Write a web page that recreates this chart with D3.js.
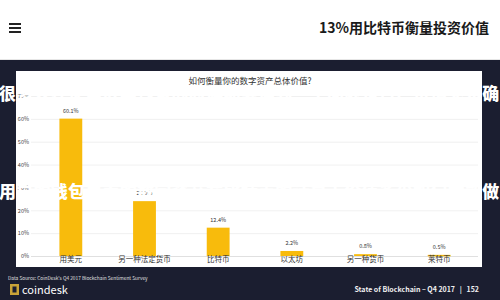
<!DOCTYPE html>
<html>
<head>
<meta charset="utf-8">
<script src="https://cdn.jsdelivr.net/npm/d3@7"></script>
<style>
  html,body{margin:0;padding:0;background:#fff;}
  svg{display:block;}
  text{font-family:"Noto Sans CJK SC","Noto Sans",sans-serif;}
</style>
</head>
<body>
<div id="chart"></div>
<script>
// ---- data ----
const categories = ["用美元", "另一种法定货币", "比特币", "以太坊", "另一种货币", "莱特币"];
const values = [60.1, 24.0, 12.4, 2.2, 0.8, 0.5];
const yTicks = [0, 10, 20, 30, 40, 50, 60, 70];
const chartTitle = "如何衡量你的数字资产总体价值?";
const pageTitle = "13%用比特币衡量投资价值";
const sourceText = "Data Source: CoinDesk's Q4 2017 Blockchain Sentiment Survey";
const footerRight = "State of Blockchain – Q4 2017   |   152";
const overlayLine1 = "很多人在使用数字钱包的时候都会遇到一个问题是资产价值无法确";
const overlayLine2 = "用户的钱包里面的数字资产在比特币的计算下价值多少如何才能做";

const W = 500, H = 300;
const svg = d3.select("#chart").append("svg").attr("width", W).attr("height", H);

// header
svg.append("rect").attr("x",0).attr("y",0).attr("width",W).attr("height",60).attr("fill","#ffffff");
svg.append("line").attr("x1",0).attr("x2",W).attr("y1",59.5).attr("y2",59.5).attr("stroke","#e6e6e6");
[24,28,32].forEach(y=>{
  svg.append("rect").attr("x",9).attr("y",y-1).attr("width",12).attr("height",2).attr("fill","#222");
});
svg.append("text").attr("x",489).attr("y",33).attr("text-anchor","end")
  .attr("font-size",14).attr("font-weight",700).attr("fill","#1a1a1a").text(pageTitle);

// dark slide background
svg.append("rect").attr("x",0).attr("y",60).attr("width",W).attr("height",H-60).attr("fill","#1b1e30");
// white card
svg.append("rect").attr("x",16).attr("y",71).attr("width",466).attr("height",196).attr("fill","#ffffff");

svg.append("text").attr("x",250).attr("y",84).attr("text-anchor","middle")
  .attr("font-size",8.5).attr("fill","#333").text(chartTitle);

// scales
const x = d3.scaleBand().domain(categories).range([34, 476]).paddingInner(0.69).paddingOuter(0.345);
const y = d3.scaleLinear().domain([0, 70]).range([256, 96]);

// gridlines
svg.append("g").selectAll("line").data(yTicks).join("line")
  .attr("x1",31).attr("x2",478)
  .attr("y1",d=>y(d)+0.5).attr("y2",d=>y(d)+0.5)
  .attr("stroke",d=>d===0?"#d8d8d8":"#ececec").attr("stroke-width",0.8);

// y axis labels
const yAxis = d3.axisLeft(y).tickValues(yTicks).tickFormat(d=>d+"%").tickSize(0).tickPadding(0);
const ya = svg.append("g").attr("transform","translate(29,0)").call(yAxis);
ya.select(".domain").remove();
ya.selectAll("text").attr("font-size",5.5).attr("fill","#444")
  .attr("font-family","'Noto Sans CJK SC',sans-serif");

// bars
svg.append("g").selectAll("rect").data(values).join("rect")
  .attr("x",(d,i)=>x(categories[i]))
  .attr("width",x.bandwidth())
  .attr("y",d=>y(d))
  .attr("height",d=>Math.max(1.5, y(0)-y(d)))
  .attr("fill","#f8bb0c");

// value labels
svg.append("g").selectAll("text").data(values).join("text")
  .attr("x",(d,i)=>x(categories[i])+x.bandwidth()/2)
  .attr("y",d=>y(d)-6)
  .attr("text-anchor","middle").attr("font-size",5.5).attr("fill","#333")
  .text(d=>d.toFixed(1)+"%");

// x axis labels
const xAxis = d3.axisBottom(x).tickSize(0).tickPadding(0);
const xa = svg.append("g").attr("transform","translate(0,257)").call(xAxis);
xa.select(".domain").remove();
xa.selectAll("text").attr("font-size",7.5).attr("fill","#333").attr("dy","0.71em")
  .attr("font-family","'Noto Sans CJK SC',sans-serif");

// footer
svg.append("text").attr("x",8).attr("y",280).attr("font-size",4.8).attr("fill","#e0e0e0").text(sourceText);
svg.append("rect").attr("x",10).attr("y",284).attr("width",9).attr("height",11).attr("fill","#c9a338");
svg.append("rect").attr("x",12.5).attr("y",286.5).attr("width",4).attr("height",6).attr("fill","#1b1e30");
svg.append("text").attr("x",22).attr("y",294).attr("font-size",11).attr("fill","#ffffff")
  .attr("font-family","'Open Sans',sans-serif").text("coindesk");
svg.append("text").attr("x",479).attr("y",292).attr("text-anchor","end").attr("font-size",7)
  .attr("font-weight",700).attr("fill","#f0f0f0").attr("xml:space","preserve")
  .attr("font-family","'Liberation Serif','DejaVu Serif',serif").text(footerRight);

// overlay large white text (scraped-page overlay)
[[overlayLine1, 100], [overlayLine2, 198]].forEach(([t, yy])=>{
  svg.append("text").attr("x",-1).attr("y",yy).attr("font-size",17).attr("font-weight",900)
    .attr("textLength", t.length*17.25).attr("lengthAdjust","spacing")
    .attr("fill","#ffffff").text(t);
});
</script>
</body>
</html>
